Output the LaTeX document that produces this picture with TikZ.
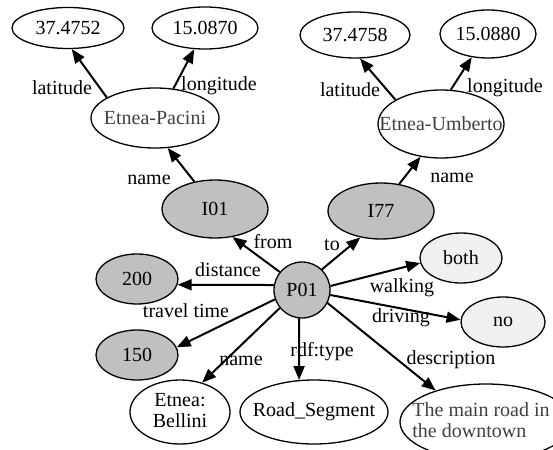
\documentclass[tikz,border=0pt]{standalone}
\usepackage{fontspec}
\setmainfont{Liberation Serif}
\usetikzlibrary{shapes.geometric,arrows.meta}
\definecolor{nodegray}{RGB}{192,192,192}
\definecolor{lightfill}{RGB}{240,240,240}
\definecolor{darktext}{RGB}{64,64,64}
\tikzset{
  ell/.style 2 args={ellipse,draw,line width=1.3pt,inner sep=0pt,fill=white,
    minimum width=#1pt,minimum height=#2pt},
  gray/.style={fill=nodegray},
  light/.style={fill=lightfill},
  dark/.style={text=darktext},
  edge/.style={line width=2pt,-{Triangle[length=14pt,width=11pt]}},
  lbl/.style={inner sep=0pt,text height=14pt,text depth=4.4pt}
}
\begin{document}
\begin{tikzpicture}[x=1pt,y=-1pt,font=\fontsize{20}{24}\selectfont]
\useasboundingbox (0,0) rectangle (553,449);
\clip (0,0) rectangle (553,449);
% nodes
\node[ell={112}{41}] (n37a) at (68,28) {\makebox[0pt]{37.4752}};
\node[ell={106}{42}] (n15a) at (205,28) {\makebox[0pt]{15.0870}};
\node[ell={128}{60},dark] (pac) at (155,118) {\makebox[0pt]{Etnea-Pacini}};
\node[ell={110}{46}] (n37b) at (355,35) {\makebox[0pt]{37.4758}};
\node[ell={96}{48}] (n15b) at (488,34) {\makebox[0pt]{15.0880}};
\node[ell={126}{68},dark] (umb) at (441,124) {\makebox[0pt]{Etnea-Umberto}};
\node[ell={106}{58},gray] (i01) at (215,209) {\makebox[0pt]{I01}};
\node[ell={106}{56},gray] (i77) at (381,211) {\makebox[0pt]{I77}};
\node[circle,draw,line width=1.3pt,gray,inner sep=0pt,minimum size=56pt] (p01) at (302,290) {\makebox[0pt]{P01}};
\node[ell={82}{50},gray] (d200) at (137,279) {\makebox[0pt]{200}};
\node[ell={82}{50},gray] (t150) at (137,355) {\makebox[0pt]{150}};
\node[ell={100}{64}] (bel) at (180,412) {\makebox[0pt]{\begin{tabular}{@{}c@{}}Etnea:\\[-3pt]Bellini\end{tabular}}};
\node[ell={148}{64}] (road) at (314,412) {\makebox[0pt]{Road\_Segment}};
\node[ell={82}{50},light] (both) at (461,258) {\makebox[0pt]{both}};
\node[ell={84}{50},light] (no) at (503,322) {\makebox[0pt]{no}};
\node[ell={172}{76},dark] (desc) at (486,422) {\makebox[0pt]{\kern-10pt\begin{tabular}{@{}l@{}}The main road in\\[-3pt]the downtown\end{tabular}}};
% edges
\draw[edge] (pac.157) -- (n37a.280);
\draw[edge] (pac.58) -- (n15a.243);
\draw[edge] (i01.127) -- (pac.293);
\draw[edge] (umb.152) -- (n37b.282);
\draw[edge] (umb.74) -- (n15b.235);
\draw[edge] (i77.56) -- (umb.238);
\draw[edge] (p01.141) -- (i01.302);
\draw[edge] (p01.46) -- (i77.232);
\draw[edge] (p01.170) -- (d200.352);
\draw[edge] (p01.199) -- (t150.11);
\draw[edge] (p01.219) -- (bel.53);
\draw[edge] (p01.264) -- (road.115);
\draw[edge] (p01.333) -- (desc.148);
\draw[edge] (p01.8) -- (both.187);
\draw[edge] (p01.350) -- (no.177);
% labels
\node[lbl] (llat1) at (62,90) {latitude};
\node[lbl] (llon1) at (219,86) {longitude};
\node[lbl] (lname1) at (149,180) {name};
\node[lbl] (llat2) at (350,92) {latitude};
\node[lbl] (llon2) at (505,88) {longitude};
\node[lbl] (lname2) at (452,178) {name};
\node[lbl] (lfrom) at (273,244) {from};
\node[lbl] (lto) at (332,246) {to};
\node[lbl] (ldist) at (228,272) {distance};
\node[lbl] (ltt) at (186,313) {travel time};
\node[lbl] (lnameb) at (241,361) {name};
\node[lbl] (lrdf) at (322,352) {rdf:type};
\node[lbl] (lwalk) at (402,288) {walking};
\node[lbl] (ldrive) at (401,318) {driving};
\node[lbl] (ldesc) at (451,360) {description};
\end{tikzpicture}
\end{document}
